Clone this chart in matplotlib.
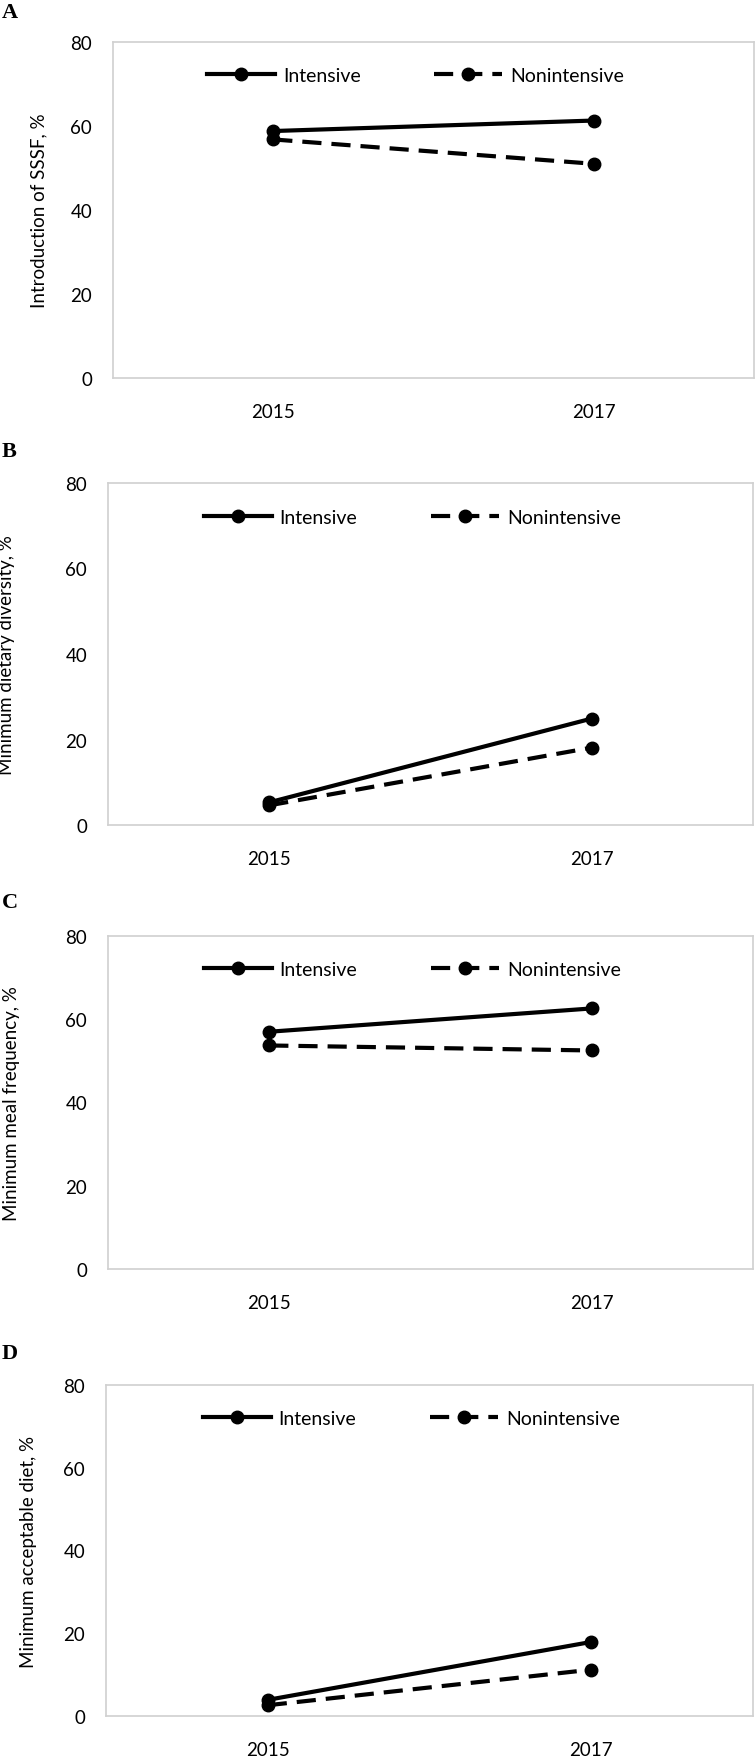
import matplotlib
matplotlib.use('Agg')
import matplotlib.pyplot as plt

plt.rcParams['font.family'] = ['Lato', 'DejaVu Sans']

years = ['2015', '2017']
letters = ['A', 'B', 'C', 'D']
ylabels = ['Introduction of SSSF, %', 'Minimum dietary diversity, %',
           'Minimum meal frequency, %', 'Minimum acceptable diet, %']
intensive = [[58.8, 61.3], [5.3, 24.9], [57.0, 62.6], [3.9, 17.9]]
nonintensive = [[56.8, 51.0], [4.6, 18.1], [53.7, 52.5], [2.6, 11.2]]

W, H = 756, 1765
fig = plt.figure(figsize=(W / 100, H / 100), dpi=100)

# axes boxes in pixels: left, top, right, bottom
boxes = [(113, 43, 754, 379), (108, 484, 753, 826),
         (108, 937, 753, 1270), (106, 1386, 753, 1717)]
letter_y = [13, 452, 903, 1354]
ylab_x = [47, 15, 20, 37]
grey = '#d0d0d0'

for i in range(4):
    l, t, r, b = boxes[i]
    ax = fig.add_axes([l / W, 1 - b / H, (r - l) / W, (b - t) / H])
    x = range(len(years))
    ax.plot(x, intensive[i], color='black', lw=3, marker='o', ms=9,
            label='Intensive')
    ax.plot(x, nonintensive[i], color='black', lw=3, marker='o', ms=9,
            dashes=(4.6, 2.4), label='Nonintensive')
    ax.set_xlim(-0.5, 1.5)
    ax.set_ylim(0, 80)
    ax.set_yticks([0, 20, 40, 60, 80])
    ax.set_xticks(list(x))
    ax.set_xticklabels(years)
    ax.tick_params(length=0, labelsize=13.5)
    ax.tick_params(axis='y', pad=15)
    ax.tick_params(axis='x', pad=18)
    for s in ax.spines.values():
        s.set_color(grey)
        s.set_linewidth(1.2)
    ax.set_ylabel(ylabels[i], fontsize=13.5)
    ax.yaxis.set_label_coords((ylab_x[i] - l) / (r - l), 0.5)
    ax.legend(loc='center', bbox_to_anchor=(0.472, 0.9), ncol=2, frameon=False,
              fontsize=14, handlelength=3.5, handletextpad=0.4,
              columnspacing=3.8)
    fig.text(2 / W, 1 - letter_y[i] / H, letters[i], family='Liberation Serif',
             fontweight='bold', fontsize=16, va='center', ha='left')

fig.savefig('out.png', dpi=100)
